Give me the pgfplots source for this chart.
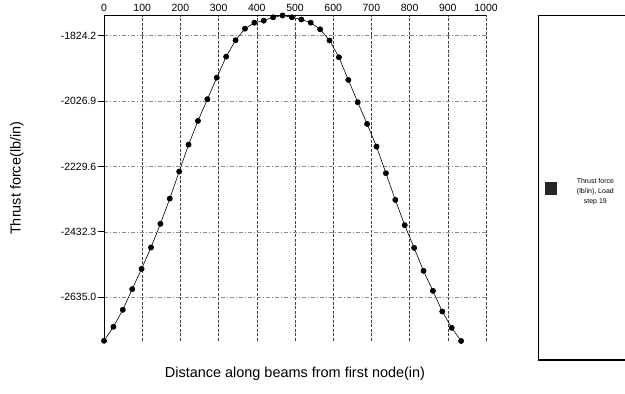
\documentclass[border=0pt]{standalone}
\usepackage{pgfplots}
\pgfplotsset{compat=1.18}
\usepackage{fontspec}
\setmainfont{Liberation Sans}

% Thrust force along the beams, load step 19
\pgfplotstableread{
x      f
0      -2770.5
24.6   -2727.1
49.2   -2674.4
73.8   -2610.2
98.4   -2547.3
123.0  -2481.0
147.6  -2407.8
172.2  -2329.4
196.8  -2245.7
221.4  -2162.0
246.0  -2088.6
270.6  -2021.3
295.2  -1954.4
319.8  -1889.3
344.4  -1838.5
369.0  -1802.5
393.6  -1783.9
418.2  -1777.7
442.8  -1767.2
467.4  -1761.6
492.0  -1767.2
516.6  -1774.0
541.2  -1783.9
565.8  -1804.4
590.4  -1839.1
615.0  -1891.1
639.6  -1961.5
664.2  -2030.6
688.8  -2097.9
713.4  -2168.2
738.0  -2250.7
762.6  -2333.4
787.2  -2411.9
811.8  -2482.2
836.4  -2553.5
861.0  -2615.5
885.6  -2679.6
910.2  -2730.2
934.8  -2771.0
}\thrust

\begin{document}
\begin{tikzpicture}
\path[use as bounding box] (0,0) rectangle (625bp,394bp);
\begin{axis}[
  at={(104bp,53bp)}, anchor=south west,
  scale only axis, width=382bp, height=325.5bp,
  xmin=0, xmax=1000, ymin=-2771.1, ymax=-1761.6,
  clip=false,
  axis x line*=top, axis y line*=left,
  axis line style={black, line width=0.8bp},
  xtick={0,100,...,1000},
  xticklabels={0,100,200,300,400,500,600,700,800,900,1000},
  ytick={-2635.0,-2432.3,-2229.6,-2026.9,-1824.2},
  yticklabels={-2635.0,-2432.3,-2229.6,-2026.9,-1824.2},
  xtick style={draw=none},
  ytick style={black, line width=0.8bp},
  tick align=outside, major tick length=6bp,
  ticklabel style={font=\fontsize{10.5}{12}\selectfont},
  xticklabel style={anchor=center, yshift=1.5bp, inner sep=0pt},
  yticklabel style={inner sep=1.5bp},
  grid=major,
  x grid style={black!75, line width=0.6bp, dash pattern=on 3bp off 1.5bp},
  y grid style={black!45, line width=0.5bp, dash pattern=on 4bp off 2bp on 1bp off 2bp},
  xlabel={Distance along beams from first node(in)},
  ylabel={Thrust force(lb/in)},
  label style={font=\fontsize{14.5}{17}\selectfont},
  xlabel style={at={(axis description cs:0.5,0)}, anchor=center, yshift=-33bp},
  ylabel style={at={(axis description cs:0,0.5)}, anchor=center, yshift=87bp},
  legend style={at={(rel axis cs:1.247,0.458)}, anchor=center, draw=none, fill=none,
    font=\fontsize{7}{10}\selectfont, nodes={align=center}},
  legend image code/.code={%
    \path[draw=none, fill=none] (0bp,0bp) -- (30bp,0bp);
    \fill[black!85, draw=none] (0bp,-3bp) rectangle (12bp,10bp);},
]
\addplot[black, line width=0.6bp, mark=*, mark size=2.6bp,
  mark options={fill=black}] table[x=x, y=f] {\thrust};
\addlegendentry{Thrust force\\(lb/in), Load\\step 19}
\end{axis}
% legend frame
\draw[line width=1.6bp] (632bp,378.3bp) -- (538.3bp,378.3bp) -- (538.3bp,34bp) -- (632bp,34bp);
\end{tikzpicture}
\end{document}
